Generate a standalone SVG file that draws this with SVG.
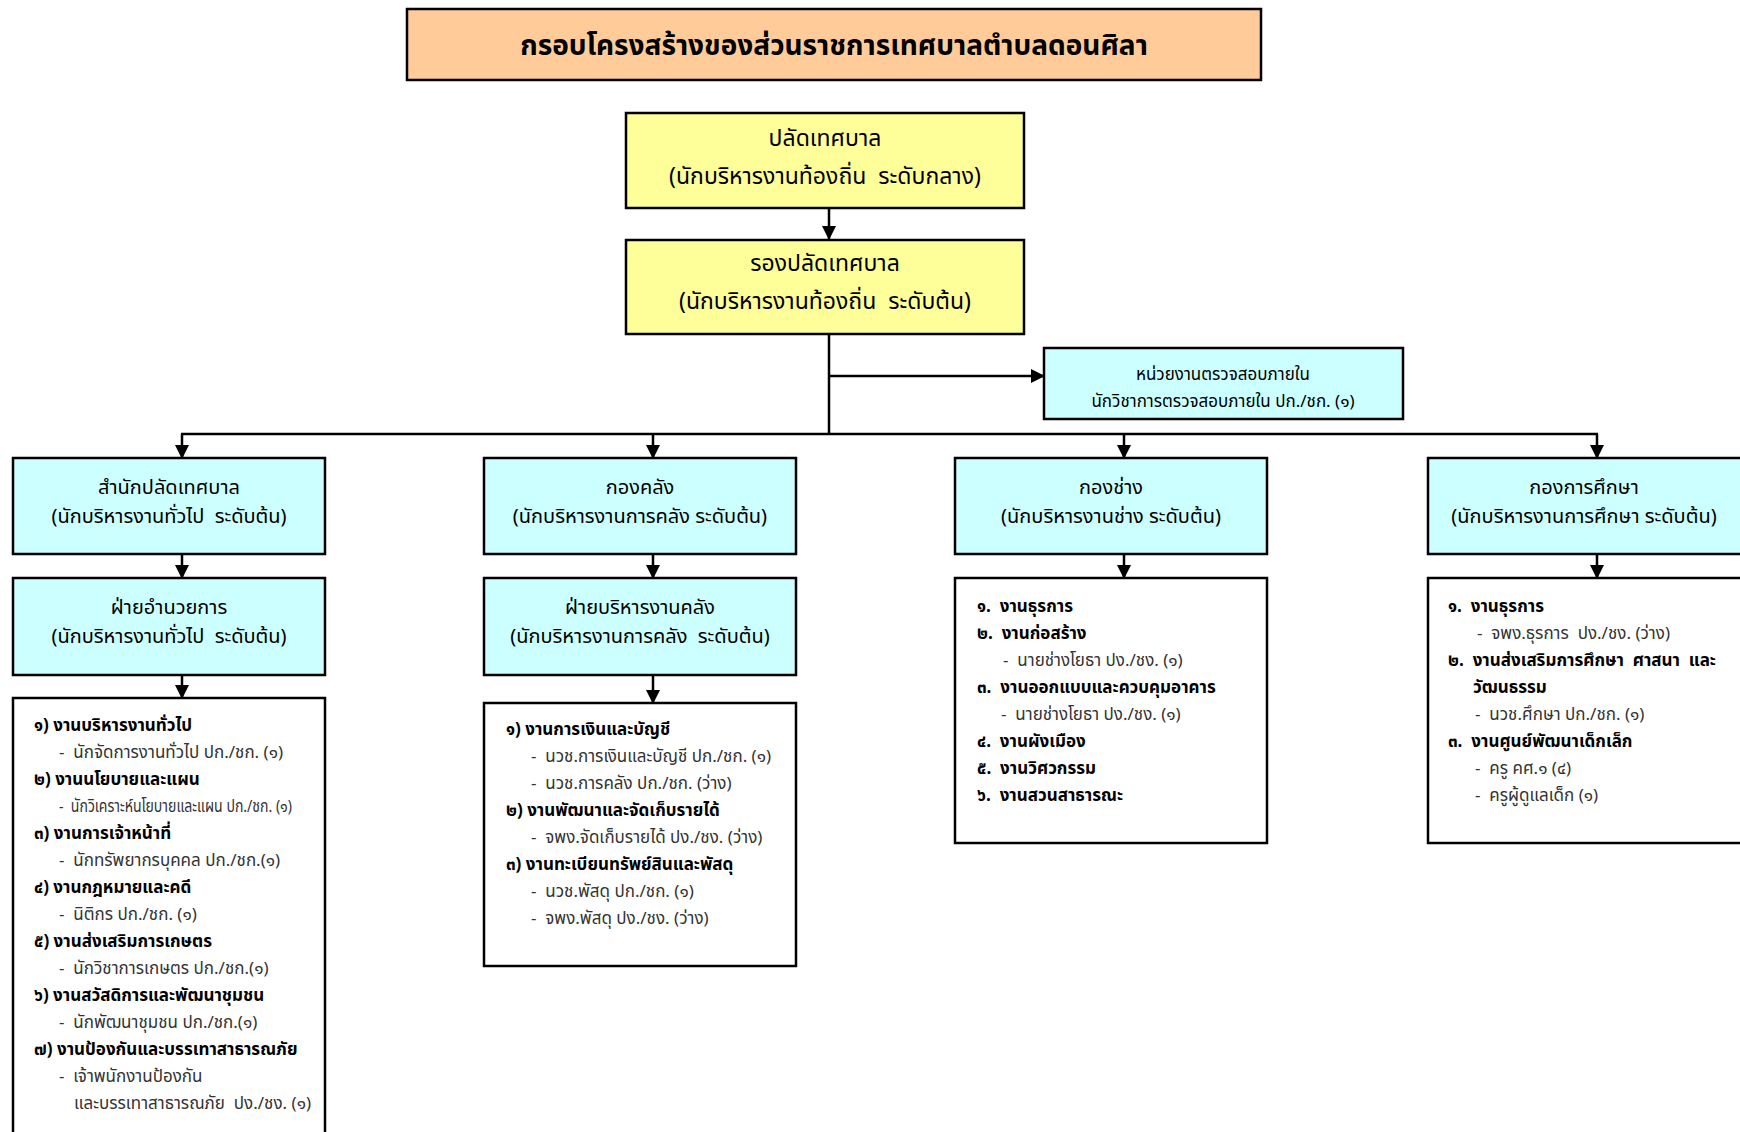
<svg xmlns="http://www.w3.org/2000/svg" width="1740" height="1132" viewBox="0 0 1740 1132">
<defs>
<marker id="ah" markerWidth="14" markerHeight="14" refX="13" refY="7" orient="auto" markerUnits="userSpaceOnUse">
<path d="M0,0 L14,7 L0,14 Z" fill="#000"/>
</marker>
<style>
.t{font-family:"Noto Sans Thai","Tahoma","Noto Sans",sans-serif;fill:#000;white-space:pre}
.box{stroke:#000;stroke-width:2.5}
.y{fill:#FFFF99}
.c{fill:#CCFFFF}
.w{fill:#FFFFFF}
.h{font-size:20px;text-anchor:middle}
.hy{font-size:23px;text-anchor:middle}
.b{font-size:17px;font-weight:bold}
.s{font-size:17px;fill:#333}
.con{stroke:#000;stroke-width:2.5;fill:none}
</style>
</defs>
<rect width="1740" height="1132" fill="#fff"/>

<g id="title">
<rect class="box" x="407" y="9" width="854" height="71" fill="#FFCC99"/>
<text class="t" x="834" y="55" font-size="28" font-weight="bold" text-anchor="middle">กรอบโครงสร้างของส่วนราชการเทศบาลตำบลดอนศิลา</text>
</g>

<g id="connectors">
<line class="con" x1="829" y1="208" x2="829" y2="239" marker-end="url(#ah)"/>
<line class="con" x1="829" y1="334" x2="829" y2="434"/>
<line class="con" x1="829" y1="376" x2="1044" y2="376" marker-end="url(#ah)"/>
<line class="con" x1="181" y1="434" x2="1598" y2="434"/>
<line class="con" x1="182" y1="434" x2="182" y2="458" marker-end="url(#ah)"/>
<line class="con" x1="653" y1="434" x2="653" y2="458" marker-end="url(#ah)"/>
<line class="con" x1="1124" y1="434" x2="1124" y2="458" marker-end="url(#ah)"/>
<line class="con" x1="1597" y1="434" x2="1597" y2="458" marker-end="url(#ah)"/>
<line class="con" x1="182" y1="554" x2="182" y2="578" marker-end="url(#ah)"/>
<line class="con" x1="653" y1="554" x2="653" y2="578" marker-end="url(#ah)"/>
<line class="con" x1="1124" y1="554" x2="1124" y2="578" marker-end="url(#ah)"/>
<line class="con" x1="1597" y1="554" x2="1597" y2="578" marker-end="url(#ah)"/>
<line class="con" x1="182" y1="675" x2="182" y2="698" marker-end="url(#ah)"/>
<line class="con" x1="653" y1="675" x2="653" y2="703" marker-end="url(#ah)"/>
</g>

<g id="palad">
<rect class="box y" x="626" y="113" width="398" height="95"/>
<text class="t hy" x="825" y="146">ปลัดเทศบาล</text>
<text class="t hy" x="825" y="184">(นักบริหารงานท้องถิ่น  ระดับกลาง)</text>
</g>

<g id="rong-palad">
<rect class="box y" x="626" y="240" width="398" height="94"/>
<text class="t hy" x="825" y="271">รองปลัดเทศบาล</text>
<text class="t hy" x="825" y="309">(นักบริหารงานท้องถิ่น  ระดับต้น)</text>
</g>

<g id="audit">
<rect class="box c" x="1044" y="348" width="359" height="71"/>
<text class="t" x="1223" y="380" font-size="17" text-anchor="middle">หน่วยงานตรวจสอบภายใน</text>
<text class="t" x="1223" y="407" font-size="17" text-anchor="middle">นักวิชาการตรวจสอบภายใน ปก./ชก. (๑)</text>
</g>

<g id="samnak-palad">
<rect class="box c" x="13" y="458" width="312" height="96"/>
<text class="t h" x="169" y="494">สำนักปลัดเทศบาล</text>
<text class="t h" x="169" y="523">(นักบริหารงานทั่วไป  ระดับต้น)</text>
</g>

<g id="fai-amnuaykan">
<rect class="box c" x="13" y="578" width="312" height="97"/>
<text class="t h" x="169" y="614">ฝ่ายอำนวยการ</text>
<text class="t h" x="169" y="643">(นักบริหารงานทั่วไป  ระดับต้น)</text>
</g>

<g id="list-samnak">
<rect class="box w" x="13" y="698" width="312" height="450"/>
<text class="t b" x="34" y="731">๑) งานบริหารงานทั่วไป</text>
<text class="t s" x="59" y="758">-  นักจัดการงานทั่วไป ปก./ชก. (๑)</text>
<text class="t b" x="34" y="785">๒) งานนโยบายและแผน</text>
<text class="t s" x="59" y="812" textLength="233" lengthAdjust="spacingAndGlyphs">-  นักวิเคราะห์นโยบายและแผน ปก./ชก. (๑)</text>
<text class="t b" x="34" y="839">๓) งานการเจ้าหน้าที่</text>
<text class="t s" x="59" y="866">-  นักทรัพยากรบุคคล ปก./ชก.(๑)</text>
<text class="t b" x="34" y="893">๔) งานกฎหมายและคดี</text>
<text class="t s" x="59" y="920">-  นิติกร ปก./ชก. (๑)</text>
<text class="t b" x="34" y="947">๕) งานส่งเสริมการเกษตร</text>
<text class="t s" x="59" y="974">-  นักวิชาการเกษตร ปก./ชก.(๑)</text>
<text class="t b" x="34" y="1001">๖) งานสวัสดิการและพัฒนาชุมชน</text>
<text class="t s" x="59" y="1028">-  นักพัฒนาชุมชน ปก./ชก.(๑)</text>
<text class="t b" x="34" y="1055">๗) งานป้องกันและบรรเทาสาธารณภัย</text>
<text class="t s" x="59" y="1082">-  เจ้าพนักงานป้องกัน</text>
<text class="t s" x="74" y="1109">และบรรเทาสาธารณภัย  ปง./ชง. (๑)</text>
</g>

<g id="kong-klang">
<rect class="box c" x="484" y="458" width="312" height="96"/>
<text class="t h" x="640" y="494">กองคลัง</text>
<text class="t h" x="640" y="523">(นักบริหารงานการคลัง ระดับต้น)</text>
</g>

<g id="fai-borihan-klang">
<rect class="box c" x="484" y="578" width="312" height="97"/>
<text class="t h" x="640" y="614">ฝ่ายบริหารงานคลัง</text>
<text class="t h" x="640" y="643">(นักบริหารงานการคลัง  ระดับต้น)</text>
</g>

<g id="list-klang">
<rect class="box w" x="484" y="703" width="312" height="263"/>
<text class="t b" x="506" y="735">๑) งานการเงินและบัญชี</text>
<text class="t s" x="531" y="762">-  นวช.การเงินและบัญชี ปก./ชก. (๑)</text>
<text class="t s" x="531" y="789">-  นวช.การคลัง ปก./ชก. (ว่าง)</text>
<text class="t b" x="506" y="816">๒) งานพัฒนาและจัดเก็บรายได้</text>
<text class="t s" x="531" y="843">-  จพง.จัดเก็บรายได้ ปง./ชง. (ว่าง)</text>
<text class="t b" x="506" y="870">๓) งานทะเบียนทรัพย์สินและพัสดุ</text>
<text class="t s" x="531" y="897">-  นวช.พัสดุ ปก./ชก. (๑)</text>
<text class="t s" x="531" y="924">-  จพง.พัสดุ ปง./ชง. (ว่าง)</text>
</g>

<g id="kong-chang">
<rect class="box c" x="955" y="458" width="312" height="96"/>
<text class="t h" x="1111" y="494">กองช่าง</text>
<text class="t h" x="1111" y="523">(นักบริหารงานช่าง ระดับต้น)</text>
</g>

<g id="list-chang">
<rect class="box w" x="955" y="578" width="312" height="265"/>
<text class="t b" x="977" y="612">๑.  งานธุรการ</text>
<text class="t b" x="977" y="639">๒.  งานก่อสร้าง</text>
<text class="t s" x="1003" y="666">-  นายช่างโยธา ปง./ชง. (๑)</text>
<text class="t b" x="977" y="693">๓.  งานออกแบบและควบคุมอาคาร</text>
<text class="t s" x="1001" y="720">-  นายช่างโยธา ปง./ชง. (๑)</text>
<text class="t b" x="977" y="747">๔.  งานผังเมือง</text>
<text class="t b" x="977" y="774">๕.  งานวิศวกรรม</text>
<text class="t b" x="977" y="801">๖.  งานสวนสาธารณะ</text>
</g>

<g id="kong-suksa">
<rect class="box c" x="1428" y="458" width="316" height="96"/>
<text class="t h" x="1584" y="494">กองการศึกษา</text>
<text class="t h" x="1584" y="523">(นักบริหารงานการศึกษา ระดับต้น)</text>
</g>

<g id="list-suksa">
<rect class="box w" x="1428" y="578" width="316" height="265"/>
<text class="t b" x="1448" y="612">๑.  งานธุรการ</text>
<text class="t s" x="1477" y="639">-  จพง.ธุรการ  ปง./ชง. (ว่าง)</text>
<text class="t b" x="1448" y="666">๒.  งานส่งเสริมการศึกษา  ศาสนา  และ</text>
<text class="t b" x="1473" y="693">วัฒนธรรม</text>
<text class="t s" x="1475" y="720">-  นวช.ศึกษา ปก./ชก. (๑)</text>
<text class="t b" x="1448" y="747">๓.  งานศูนย์พัฒนาเด็กเล็ก</text>
<text class="t s" x="1475" y="774">-  ครู คศ.๑ (๔)</text>
<text class="t s" x="1475" y="801">-  ครูผู้ดูแลเด็ก (๑)</text>
</g>
</svg>
